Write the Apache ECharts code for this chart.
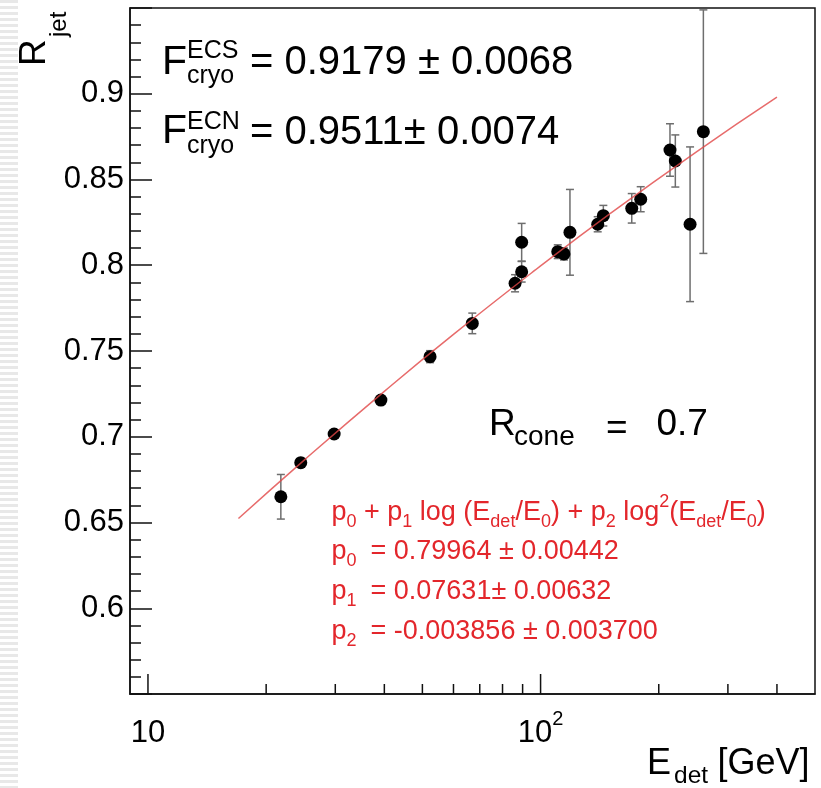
<!DOCTYPE html>
<html><head><meta charset="utf-8">
<script src="https://cdn.jsdelivr.net/npm/echarts@6/dist/echarts.min.js"></script>
<style>html,body{margin:0;padding:0;background:#fff}#c{width:821px;height:788px}</style>
</head><body><div id="c"></div>
<script>
// ---- data ----
const energies  = [21.8, 24.5, 29.8, 39.2, 52.3, 67.0, 86.1, 89.5, 89.5, 110.6, 114.7, 118.8, 139.8, 144.5, 170.7, 179.9, 213.6, 220.4, 240.3, 259.8];
const responses = [0.665, 0.6849, 0.7016, 0.7214, 0.7467, 0.7661, 0.7895, 0.7962, 0.8134, 0.8079, 0.8066, 0.8192, 0.8239, 0.8289, 0.8332, 0.8385, 0.8672, 0.8608, 0.8239, 0.8779];
const errors    = [0.013, 0.002, 0.0015, 0.0015, 0.0035, 0.006, 0.005, 0.006, 0.011, 0.004, 0.0035, 0.025, 0.0044, 0.006, 0.0086, 0.0073, 0.0153, 0.0152, 0.0451, 0.071];
const fitE = [17, 25, 40, 60, 100, 150, 250, 400];
const fitR = [0.6523, 0.6864, 0.7265, 0.7597, 0.7996, 0.8300, 0.8663, 0.8980];
const xMajorTicks = [10, 100];
const xMinorTicks = [20, 30, 40, 50, 60, 70, 80, 90, 200, 300, 400];
const yTickLabels = ['0.6', '0.65', '0.7', '0.75', '0.8', '0.85', '0.9'];

const FF = 'Liberation Sans, Arial, Helvetica, sans-serif';
const RED = '#e3262b';
const AX = '#111';

const chart = echarts.init(document.getElementById('c'), null, {renderer: 'canvas'});

function tickSeries(vals, len) {
  return {
    type: 'custom', z: 5, silent: true, clip: false,
    data: vals.map(v => [v, 0.55]),
    renderItem(params, api) {
      const p = api.coord([api.value(0), api.value(1)]);
      return {type: 'line', shape: {x1: p[0], y1: p[1], x2: p[0], y2: p[1] - len},
              style: {stroke: AX, lineWidth: 1.5}};
    }
  };
}

// stripe pattern at left edge
const pc = document.createElement('canvas'); pc.width = 18; pc.height = 6;
const pctx = pc.getContext('2d');
pctx.fillStyle = '#ffffff'; pctx.fillRect(0, 0, 18, 6);
pctx.fillStyle = '#e8e8e8'; pctx.fillRect(0, 0, 18, 3);

function txt(text, x, y, size, extra) {
  return Object.assign({type: 'text', x: x, y: y, z: 100,
    style: {text: text, fontFamily: FF, fontSize: size, fill: '#000', align: 'left', verticalAlign: 'middle'}}, extra || {});
}

const richFit = {
  n:  {fontFamily: FF, fontSize: 27, lineHeight: 27, padding: [6, 0, 6, 0], fill: RED},
  sb: {fontFamily: FF, fontSize: 18, lineHeight: 18, padding: [20, 0, 1, 0], fill: RED},
  sb2:{fontFamily: FF, fontSize: 18, lineHeight: 18, padding: [20, 14, 1, 0], fill: RED},
  sp: {fontFamily: FF, fontSize: 18, lineHeight: 18, padding: [0, 0, 21, 0], fill: RED}
};
function fitLine(text, top) {
  return {type: 'text', x: 331.5, y: top, z: 100,
    style: {text: text, rich: richFit, fill: RED, fontFamily: FF, fontSize: 27, align: 'left', verticalAlign: 'top'}};
}

const option = {
  animation: false,
  backgroundColor: '#fff',
  grid: {left: 130, right: 6, top: 8, bottom: 94, show: true, borderColor: AX, borderWidth: 1.5, backgroundColor: 'transparent'},
  xAxis: {
    type: 'log', logBase: 10, min: 9, max: 500,
    axisLine: {show: true, lineStyle: {color: AX, width: 1.5}},
    axisTick: {show: false},
    splitLine: {show: false},
    minorTick: {show: false},
    axisLabel: {
      margin: 19.5, color: '#000',
      formatter: function (v) {
        if (Math.abs(v - 10) < 1e-6) return '{a|10}';
        if (Math.abs(v - 100) < 1e-4) return '{a|10}{b|2}';
        return '';
      },
      rich: {
        a: {fontFamily: FF, fontSize: 31, lineHeight: 31, padding: [9, 0, 0, 0], color: '#000'},
        b: {fontFamily: FF, fontSize: 20, lineHeight: 20, padding: [0, 0, 20, 0], color: '#000'}
      }
    }
  },
  yAxis: {
    type: 'value', min: 0.55, max: 0.95, interval: 0.05,
    axisLine: {show: true, lineStyle: {color: AX, width: 1.5}},
    axisTick: {show: true, inside: true, length: 22, lineStyle: {color: AX, width: 1.5}},
    minorTick: {show: true, splitNumber: 5, length: 11, lineStyle: {color: AX, width: 1.5}},
    splitLine: {show: false},
    axisLabel: {
      margin: 6, fontFamily: FF, fontSize: 31, color: '#000',
      formatter: function (v) {
        const s = String(parseFloat(v.toFixed(2)));
        return yTickLabels.indexOf(s) >= 0 ? s : '';
      }
    }
  },
  series: [
    tickSeries(xMajorTicks, 20),
    tickSeries(xMinorTicks, 10),
    {
      type: 'custom', z: 2, silent: true, clip: true,
      data: energies.map((e, i) => [e, responses[i], errors[i]]),
      renderItem(params, api) {
        const x = api.value(0), y = api.value(1), e = api.value(2);
        const lo = api.coord([x, y - e]), hi = api.coord([x, y + e]);
        const w = 4;
        const st = {stroke: '#6e6e6e', lineWidth: 1.5};
        return {type: 'group', children: [
          {type: 'line', shape: {x1: lo[0], y1: lo[1], x2: hi[0], y2: hi[1]}, style: st},
          {type: 'line', shape: {x1: lo[0] - w, y1: lo[1], x2: lo[0] + w, y2: lo[1]}, style: st},
          {type: 'line', shape: {x1: hi[0] - w, y1: hi[1], x2: hi[0] + w, y2: hi[1]}, style: st}
        ]};
      }
    },
    {
      type: 'scatter', z: 3, symbol: 'circle', symbolSize: 13,
      itemStyle: {color: '#000', opacity: 1},
      data: energies.map((e, i) => [e, responses[i]])
    },
    {
      type: 'line', z: 4, smooth: true, showSymbol: false, silent: true,
      lineStyle: {color: 'rgba(225,70,70,0.8)', width: 1.5},
      data: fitE.map((e, i) => [e, fitR[i]])
    }
  ],
  graphic: [
    {type: 'rect', shape: {x: 0, y: 0, width: 18, height: 788}, z: 0, style: {fill: {image: pc, repeat: 'repeat'}}},
    // F_cryo lines
    txt('F', 162, 62.5, 41),
    txt('ECS', 187, 51.5, 25),
    txt('cryo', 187, 76.6, 25),
    txt('= 0.9179 ± 0.0068', 250, 63, 40),
    txt('F', 162, 132, 41),
    txt('ECN', 187, 122, 25),
    txt('cryo', 187, 146.5, 25),
    txt('= 0.9511± 0.0074', 250, 133, 40),
    // R_cone
    txt('R', 489, 425, 37),
    txt('cone', 514, 436.8, 28),
    txt('=', 606, 429, 37),
    txt('0.7', 656.5, 425, 37),
    // fit text
    fitLine('{n|p}{sb|0}{n| + p}{sb|1}{n| log (E}{sb|det}{n|/E}{sb|0}{n|) + p}{sb|2}{n| log}{sp|2}{n|(E}{sb|det}{n|/E}{sb|0}{n|)}', 499.5),
    fitLine('{n|p}{sb2|0}{n|= 0.79964 ± 0.00442}', 538.5),
    fitLine('{n|p}{sb2|1}{n|= 0.07631± 0.00632}', 578.5),
    fitLine('{n|p}{sb2|2}{n|= -0.003856 ± 0.003700}', 618.5),
    // axis titles
    txt('E', 647, 764, 36),
    txt('det', 674, 776.5, 24.5),
    txt('[GeV]', 717.5, 764, 36),
    txt('R', 35, 66, 37, {rotation: Math.PI / 2}),
    txt('jet', 59.5, 37, 24, {rotation: Math.PI / 2})
  ]
};
chart.setOption(option);
</script>
</body></html>
